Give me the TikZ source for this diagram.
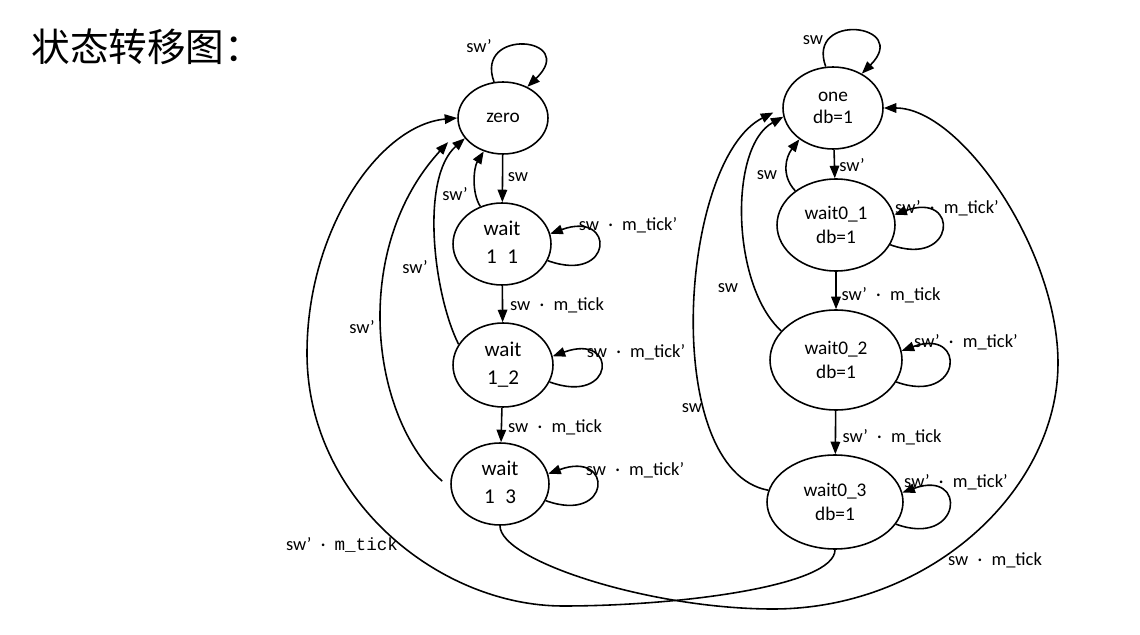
\documentclass[tikz,border=0pt]{standalone}
\usepackage{fontspec}
\setmainfont{Carlito}
\newfontfamily\cjk{Noto Sans CJK SC}
\newfontfamily\monofnt{Liberation Mono}
\usetikzlibrary{shapes.geometric, arrows.meta}

\begin{document}
\begin{tikzpicture}[x=0.02cm, y=-0.02cm,
        stnode/.style={draw, ellipse, line width=0.9pt, inner sep=0pt, align=center, font=\fontsize{11}{13.6}\selectfont},
        wnode/.style={font=\fontsize{12}{16}\selectfont},
        lab/.style={inner sep=1pt, font=\fontsize{10.5}{12}\selectfont},
        trans/.style={line width=0.9pt, -{Triangle[length=2.5mm, width=1.9mm]}}]
        \useasboundingbox (0,0) rectangle (1140,635);
        \node[anchor=west, inner sep=0pt, font=\cjk\fontsize{22}{26}\selectfont] (T) at (31,47) {状态转移图：};
        % states, left column
        \node[stnode, minimum width=1.8cm, minimum height=1.44cm] (Z0) at (503,118) {zero};
        \node[stnode, wnode, minimum width=1.96cm, minimum height=1.64cm] (W1) at (502,244) {wait\\1\phantom{\_}1};
        \node[stnode, wnode, minimum width=2.0cm, minimum height=1.68cm] (W2) at (503,365) {wait\\1\_2};
        \node[stnode, wnode, minimum width=1.96cm, minimum height=1.64cm] (W3) at (500,484) {wait\\1\phantom{\_}3};
        % states, right column
        \node[stnode, minimum width=2.0cm, minimum height=1.64cm, font=\fontsize{11}{12.5}\selectfont] (O1) at (833,108) {one\\db=1};
        \node[stnode, minimum width=2.36cm, minimum height=1.84cm] (U1) at (836,225) {wait0\_1\\db=1};
        \node[stnode, minimum width=2.64cm, minimum height=2.0cm] (U2) at (836,360) {wait0\_2\\db=1};
        \node[stnode, minimum width=2.72cm, minimum height=1.88cm] (U3) at (835,502) {wait0\_3\\db=1};
        \coordinate (A1) at (773,609);
        \coordinate (A2) at (1058,363);
        \coordinate (B1) at (563,606);
        \coordinate (B2) at (307,353);
        % left column
        \draw[trans] (Z0.104) .. controls +(-20,-55) and +(52,-50) .. (Z0.52);
        \draw[trans] (Z0) -- (W1);
        \draw[trans] (W1.120) .. controls +(-9,-14) and +(-10,16) .. (Z0.240);
        \draw[trans] (W1.-20) .. controls +(66,24) and +(66,-24) .. (W1.12);
        \draw[trans] (W1) -- (W2);
        \draw[trans] (W2.-20) .. controls +(66,24) and +(66,-24) .. (W2.10);
        \draw[trans] (W2.155) .. controls +(-25,-50) and +(-45,40) .. (Z0.208);
        \draw[trans] (W2) -- (W3);
        \draw[trans] (W3.-20) .. controls +(66,24) and +(66,-24) .. (W3.12);
        \draw[trans, shorten <=0.22cm, shorten >=0.34cm] (W3.185) .. controls +(-80,-70) and +(-110,120) .. (Z0.195);
        \draw[trans] (W3.south) .. controls +(0,35) and +(-123,0) .. (A1) .. controls +(157,0) and +(0,127) .. (A2) .. controls +(0,-113) and +(77,0) .. (O1.east);
        % right column
        \draw[trans] (O1.100) .. controls +(-20,-55) and +(50,-50) .. (O1.50);
        \draw[trans] (O1) -- (U1);
        \draw[trans] (U1.140) .. controls +(-14,-15) and +(-14,18) .. (O1.223);
        \draw[trans] (U1.-20) .. controls +(66,24) and +(66,-24) .. (U1.10);
        \draw[trans] (U1) -- (U2);
        \draw[trans] (U2.-20) .. controls +(66,24) and +(66,-24) .. (U2.8);
        \draw[trans] (U2.152) .. controls +(-50,-45) and +(-55,30) .. (O1.190);
        \draw[trans] (U2) -- (U3);
        \draw[trans] (U3.-20) .. controls +(66,24) and +(66,-24) .. (U3.8);
        \draw[trans, shorten >=0.2cm] (U3.170) .. controls +(-109,-20) and +(-103,52) .. (O1.west);
        \draw[trans] (U3.south) .. controls +(0,36) and +(117,0) .. (B1) .. controls +(-123,0) and +(0,147) .. (B2) .. controls +(0,-123) and +(-78,7) .. (Z0.west);
        % labels
        \node[lab] (L1) at (479,46) {sw’};
        \node[lab] (L2) at (518,177) {sw};
        \node[lab] (L3) at (455,194) {sw’};
        \node[lab] (L4) at (628,225) {sw\enspace·\enspace m\_tick’};
        \node[lab] (L5) at (557,305) {sw\enspace·\enspace m\_tick};
        \node[lab] (L6) at (636,352) {sw\enspace·\enspace m\_tick’};
        \node[lab] (L7) at (555,427) {sw\enspace·\enspace m\_tick};
        \node[lab] (L8) at (635,470) {sw\enspace·\enspace m\_tick’};
        \node[lab] (L9) at (415,267) {sw’};
        \node[lab] (L10) at (362,327) {sw’};
        \node[lab] (L11) at (342,545) {sw’\enspace·\enspace{\monofnt\fontsize{10}{12}\selectfont m\_tick}};
        \node[lab] (L12) at (813,40) {sw};
        \node[lab] (L13) at (852,165) {sw’};
        \node[lab] (L14) at (767,175) {sw};
        \node[lab] (L15) at (947,208) {sw’\enspace·\enspace m\_tick’};
        \node[lab] (L16) at (891,295) {sw’\enspace·\enspace m\_tick};
        \node[lab] (L17) at (728,288) {sw};
        \node[lab] (L18) at (966,342) {sw’\enspace·\enspace m\_tick’};
        \node[lab] (L19) at (692,408) {sw};
        \node[lab] (L20) at (892,437) {sw’\enspace·\enspace m\_tick};
        \node[lab] (L21) at (956,482) {sw’\enspace·\enspace m\_tick’};
        \node[lab] (L22) at (995,560) {sw\enspace·\enspace m\_tick};
\end{tikzpicture}
\end{document}
